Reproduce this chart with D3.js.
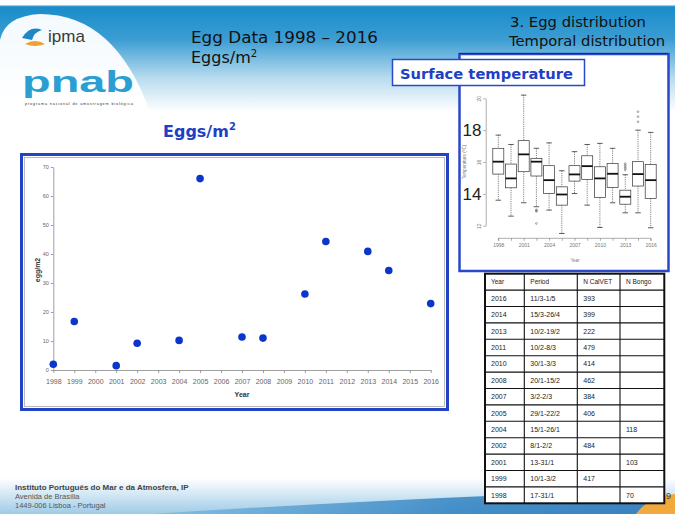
<!DOCTYPE html>
<html><head><meta charset="utf-8">
<script src="https://cdn.jsdelivr.net/npm/d3@7"></script>
<style>
html,body{margin:0;padding:0;background:#fff;}
svg{display:block;}
</style></head>
<body>
<svg id="c" width="675" height="514"></svg>
<script>
// ---------- DATA ----------
const eggYears = [1998,1999,2001,2002,2004,2005,2007,2008,2010,2011,2013,2014,2016];
const eggValues = [2.0,16.7,1.5,9.2,10.2,66.0,11.4,11.0,26.2,44.3,40.9,34.3,22.9];
const xTickYears = d3.range(1998,2017);
const yTicksEggs = [0,10,20,30,40,50,60,70];

const boxYears = [1998,1999,2001,2002,2004,2005,2007,2008,2010,2011,2013,2014,2016];
const boxLabelYears = [1998,2001,2004,2007,2010,2013,2016];
const whiskerLow  = [13.6,12.6,13.44,13.19,12.98,11.51,14.02,13.29,11.89,13.44,12.81,12.81,11.87];
const quart1      = [15.24,14.38,15.39,15.12,14.03,13.29,14.80,14.9,13.77,14.4,13.35,14.49,13.71];
const medians     = [16.02,14.97,16.48,16.02,14.86,13.96,15.22,15.74,14.97,15.26,13.82,15.24,14.86];
const quart3      = [16.86,15.87,17.34,16.23,15.77,14.44,15.77,16.39,15.7,15.91,14.23,16.02,15.85];
const whiskerHigh = [17.69,17.1,20.2,16.86,17.2,15.45,16.65,17.1,17.17,16.86,15.2,18.0,17.86];
const outlierYears = [2002,2002,2002,2002,2013,2013,2013,2013,2013,2014,2014,2014];
const outlierTemps = [13.0,12.95,12.9,12.14,15.9,15.8,15.7,15.6,15.5,19.16,18.85,18.53];
const tempSmallTicks = [12,16,20];
const tempBigTicks = [14,18];

const tableHeader = ["Year","Period","N CalVET","N Bongo"];
const tableYears = ["2016","2014","2013","2011","2010","2008","2007","2005","2004","2002","2001","1999","1998"];
const tablePeriods = ["11/3-1/5","15/3-26/4","10/2-19/2","10/2-8/3","30/1-3/3","20/1-15/2","3/2-2/3","29/1-22/2","15/1-26/1","8/1-2/2","13-31/1","10/1-3/2","17-31/1"];
const tableCalVET = ["393","399","222","479","414","462","384","406","","484","","417",""];
const tableBongo = ["","","","","","","","","118","","103","","70"];

// ---------- SVG ----------
const svg = d3.select("#c");
const defs = svg.append("defs");

const hg = defs.append("linearGradient").attr("id","hdr").attr("x1",0).attr("y1",0).attr("x2",0).attr("y2",1);
hg.append("stop").attr("offset",0).attr("stop-color","#ffffff");
hg.append("stop").attr("offset",0.04).attr("stop-color","#ffffff");
hg.append("stop").attr("offset",0.06).attr("stop-color","#1a8cca");
hg.append("stop").attr("offset",0.35).attr("stop-color","#3b9dd3");
hg.append("stop").attr("offset",0.7).attr("stop-color","#b9dcef");
hg.append("stop").attr("offset",1).attr("stop-color","#ffffff");

const fg = defs.append("linearGradient").attr("id","ftr").attr("x1",0).attr("y1",0).attr("x2",0).attr("y2",1);
fg.append("stop").attr("offset",0).attr("stop-color","#ffffff");
fg.append("stop").attr("offset",1).attr("stop-color","#9fcbe8");

const sw = defs.append("linearGradient").attr("id","swoosh").attr("x1",0).attr("y1",0).attr("x2",1).attr("y2",0);
sw.append("stop").attr("offset",0).attr("stop-color","#7fb9e0");
sw.append("stop").attr("offset",0.6).attr("stop-color","#2a7fc0");
sw.append("stop").attr("offset",1).attr("stop-color","#1e6fb5");

// header band
svg.append("rect").attr("x",0).attr("y",0).attr("width",675).attr("height",112).attr("fill","url(#hdr)");
// white wave under logos
svg.append("path").attr("d","M0,112 L0,40 Q5,16 40,14 Q115,14 150,112 Z").attr("fill","#ffffff").attr("opacity",0.95);

// logos (approximate, as text)
svg.append("path").attr("d","M22,38 Q30,25 42,30 Q34,32 32,40 Z").attr("fill","#1f87c3");
svg.append("path").attr("d","M25,44 Q35,38 45,44 Q35,48 25,44 Z").attr("fill","#f0a030");
svg.append("text").attr("x",48).attr("y",42).attr("font-family","Liberation Sans, Arial").attr("font-size",17)
  .attr("fill","#3a3a3a").text("ipma");
svg.append("text").attr("x",22).attr("y",92).attr("font-family","Liberation Sans, Arial").attr("font-size",30).attr("font-weight","bold")
  .attr("fill","#2b9fd2").attr("textLength",112).attr("lengthAdjust","spacingAndGlyphs").text("pnab");
svg.append("text").attr("x",25).attr("y",105).attr("font-family","Liberation Sans, Arial").attr("font-size",3.8)
  .attr("fill","#333").attr("textLength",108).text("programa nacional de amostragem biológica");

// footer band
svg.append("rect").attr("x",0).attr("y",478).attr("width",675).attr("height",36).attr("fill","url(#ftr)");
svg.append("path").attr("d","M150,514 Q400,498 640,490 Q660,500 650,514 Z").attr("fill","url(#swoosh)").attr("opacity",0.8);
svg.append("path").attr("d","M636,514 Q648,497 675,494 L675,514 Z").attr("fill","#f2a93b");

// titles
const comic = "'DejaVu Sans', sans-serif";
svg.append("text").attr("x",191).attr("y",43).attr("font-family",comic).attr("font-size",16)
  .attr("fill","#111").attr("textLength",187).attr("lengthAdjust","spacingAndGlyphs").text("Egg Data 1998 – 2016");
const t2 = svg.append("text").attr("x",191).attr("y",63).attr("font-family",comic).attr("font-size",16).attr("fill","#111");
t2.append("tspan").text("Eggs/m");
t2.append("tspan").attr("font-size",10).attr("dy",-6).text("2");

svg.append("text").attr("x",510).attr("y",27).attr("font-family",comic).attr("font-size",13.5)
  .attr("fill","#111").attr("textLength",136).attr("lengthAdjust","spacingAndGlyphs").text("3. Egg distribution");
svg.append("text").attr("x",509).attr("y",46).attr("font-family",comic).attr("font-size",13.5)
  .attr("fill","#111").attr("textLength",156).attr("lengthAdjust","spacingAndGlyphs").text("Temporal distribution");

const t3 = svg.append("text").attr("x",163).attr("y",137).attr("font-family",comic).attr("font-size",16).attr("font-weight","bold").attr("fill","#1f3fc4");
t3.append("tspan").text("Eggs/m");
t3.append("tspan").attr("font-size",10).attr("dy",-7).text("2");

// footer text
const ft = "Liberation Sans, Arial";
svg.append("text").attr("x",15).attr("y",490).attr("font-family",ft).attr("font-size",8).attr("font-weight","bold").attr("fill","#444").text("Instituto Português do Mar e da Atmosfera, IP");
svg.append("text").attr("x",15).attr("y",499).attr("font-family",ft).attr("font-size",7.5).attr("fill","#555").text("Avenida de Brasília");
svg.append("text").attr("x",15).attr("y",508).attr("font-family",ft).attr("font-size",7.5).attr("fill","#555").text("1449-006 Lisboa - Portugal");

// ---------- SCATTER PANEL ----------
svg.append("rect").attr("x",21.5).attr("y",154.5).attr("width",426).attr("height",255)
  .attr("fill","#fff").attr("stroke","#2244c4").attr("stroke-width",3);
svg.append("rect").attr("x",24.5).attr("y",157.5).attr("width",420).attr("height",249)
  .attr("fill","none").attr("stroke","#aaa").attr("stroke-width",0.8);

const x = d3.scaleLinear().domain([1998,2016]).range([53.3,430.7]);
const y = d3.scaleLinear().domain([0,70]).range([370,167]);

const ax = svg.append("g").attr("transform","translate(0,370)")
  .call(d3.axisBottom(x).tickValues(xTickYears).tickFormat(d3.format("d")).tickSize(3).tickSizeOuter(0));
const ay = svg.append("g").attr("transform","translate(53.3,0)")
  .call(d3.axisLeft(y).tickValues(yTicksEggs).tickSize(2.5).tickSizeOuter(0).tickPadding(2));
[ax,ay].forEach(g=>{
  g.selectAll("path,line").attr("stroke","#888").attr("stroke-width",0.8);
  g.selectAll("text").attr("fill","#666").attr("font-family",ft);
});
ax.selectAll("text").attr("font-size",7).attr("dy","1.1em");
ay.selectAll("text").attr("font-size",5.5);

svg.append("text").attr("x",242).attr("y",397).attr("text-anchor","middle").attr("font-family",ft)
  .attr("font-size",7).attr("font-weight","bold").attr("fill","#333").text("Year");
svg.append("text").attr("transform","translate(40,270) rotate(-90)").attr("text-anchor","middle").attr("font-family",ft)
  .attr("font-size",7).attr("font-weight","bold").attr("fill","#333").text("egg/m2");

svg.append("g").selectAll("circle").data(eggYears).join("circle")
  .attr("cx",(d)=>x(d)).attr("cy",(d,i)=>y(eggValues[i])).attr("r",3.8).attr("fill","#0b36cc");

// ---------- BOXPLOT PANEL ----------
svg.append("rect").attr("x",459.5).attr("y",54).attr("width",209).attr("height",217)
  .attr("fill","#fff").attr("stroke","#2a48c8").attr("stroke-width",2.5);
svg.append("line").attr("x1",459).attr("x2",668).attr("y1",53.5).attr("y2",53.5).attr("stroke","#333").attr("stroke-width",1);

const bx = d3.scalePoint().domain(boxYears).range([498.3,650.7]);
const by = d3.scaleLinear().domain([12,20]).range([225.7,98.3]);

const bax = svg.append("g").attr("transform","translate(0,238.3)")
  .call(d3.axisBottom(bx).tickFormat(d=>boxLabelYears.includes(d)?d:"").tickSize(2.5).tickPadding(3));
bax.select(".domain").attr("d",`M${bx(1998)},240.8V238.3H${bx(2016)}V240.8`).attr("transform","translate(0,-238.3)");
bax.selectAll("path,line").attr("stroke","#777").attr("stroke-width",0.6);
bax.selectAll("text").attr("font-size",5).attr("fill","#777").attr("font-family",ft);

const bay = svg.append("g").attr("transform","translate(485.7,0)")
  .call(d3.axisLeft(by).tickValues([12,14,16,18,20]).tickSize(2.5).tickFormat(d=>tempSmallTicks.includes(d)?d:"").tickSizeOuter(0));
bay.selectAll("path,line").attr("stroke","#777").attr("stroke-width",0.6);
bay.selectAll("text").attr("font-size",5).attr("fill","#777").attr("font-family",ft)
  .attr("transform","rotate(-90)").attr("x",0).attr("dy",0).attr("y",-5).attr("text-anchor","middle");

svg.append("g").selectAll("text").data(tempBigTicks).join("text")
  .attr("x",472).attr("y",d=>by(d)).attr("dy","0.36em").attr("text-anchor","middle")
  .attr("font-family",ft).attr("font-size",17).attr("fill","#222").text(d=>d);

svg.append("text").attr("x",575).attr("y",262).attr("text-anchor","middle").attr("font-family",ft)
  .attr("font-size",4.5).attr("fill","#777").text("Year");
svg.append("text").attr("transform","translate(466,162) rotate(-90)").attr("text-anchor","middle").attr("font-family",ft)
  .attr("font-size",4.5).attr("fill","#777").text("Temperature (ºC)");

const bw = 11;
const boxes = svg.append("g").selectAll("g").data(boxYears).join("g");
boxes.append("line").attr("x1",d=>bx(d)).attr("x2",d=>bx(d))
  .attr("y1",(d,i)=>by(whiskerHigh[i])).attr("y2",(d,i)=>by(quart3[i]))
  .attr("stroke","#333").attr("stroke-width",0.6).attr("stroke-dasharray","1.2,1");
boxes.append("line").attr("x1",d=>bx(d)).attr("x2",d=>bx(d))
  .attr("y1",(d,i)=>by(quart1[i])).attr("y2",(d,i)=>by(whiskerLow[i]))
  .attr("stroke","#333").attr("stroke-width",0.6).attr("stroke-dasharray","1.2,1");
boxes.append("line").attr("x1",d=>bx(d)-bw/4).attr("x2",d=>bx(d)+bw/4)
  .attr("y1",(d,i)=>by(whiskerHigh[i])).attr("y2",(d,i)=>by(whiskerHigh[i])).attr("stroke","#333").attr("stroke-width",0.8);
boxes.append("line").attr("x1",d=>bx(d)-bw/4).attr("x2",d=>bx(d)+bw/4)
  .attr("y1",(d,i)=>by(whiskerLow[i])).attr("y2",(d,i)=>by(whiskerLow[i])).attr("stroke","#333").attr("stroke-width",0.8);
boxes.append("rect").attr("x",d=>bx(d)-bw/2).attr("width",bw)
  .attr("y",(d,i)=>by(quart3[i])).attr("height",(d,i)=>by(quart1[i])-by(quart3[i]))
  .attr("fill","#fff").attr("stroke","#333").attr("stroke-width",0.7);
boxes.append("line").attr("x1",d=>bx(d)-bw/2).attr("x2",d=>bx(d)+bw/2)
  .attr("y1",(d,i)=>by(medians[i])).attr("y2",(d,i)=>by(medians[i])).attr("stroke","#111").attr("stroke-width",1.8);

svg.append("g").selectAll("circle").data(outlierYears).join("circle")
  .attr("cx",d=>bx(d)).attr("cy",(d,i)=>by(outlierTemps[i])).attr("r",0.9)
  .attr("fill","none").attr("stroke","#555").attr("stroke-width",0.5);

// Surface temperature label
svg.append("rect").attr("x",392.5).attr("y",59.5).attr("width",192).attr("height",26)
  .attr("fill","#fff").attr("stroke","#2a48c8").attr("stroke-width",1.5);
svg.append("text").attr("x",400).attr("y",79).attr("font-family",comic).attr("font-size",14.5).attr("font-weight","bold")
  .attr("fill","#1f3fc4").attr("textLength",173).attr("lengthAdjust","spacingAndGlyphs").text("Surface temperature");

// ---------- TABLE ----------
const colX = [485,524.3,577.3,620,664.3];
const rowH = 16.4, top0 = 273.7;
const rows = [tableHeader].concat(tableYears.map((yv,i)=>[yv,tablePeriods[i],tableCalVET[i],tableBongo[i]]));
const tbl = svg.append("g");
tbl.append("rect").attr("x",colX[0]).attr("y",top0).attr("width",colX[4]-colX[0]).attr("height",rowH*rows.length)
  .attr("fill","#fff").attr("stroke","#111").attr("stroke-width",2);
tbl.selectAll("line.h").data(d3.range(1,rows.length)).join("line").attr("class","h")
  .attr("x1",colX[0]).attr("x2",colX[4]).attr("y1",d=>top0+d*rowH).attr("y2",d=>top0+d*rowH)
  .attr("stroke","#111").attr("stroke-width",1.1);
tbl.selectAll("line.v").data(colX.slice(1,4)).join("line").attr("class","v")
  .attr("x1",d=>d).attr("x2",d=>d).attr("y1",top0).attr("y2",top0+rowH*rows.length)
  .attr("stroke","#111").attr("stroke-width",1.1);
rows.forEach((r,ri)=>{
  r.forEach((v,ci)=>{
    if(!v) return;
    tbl.append("text").attr("x",colX[ci]+6).attr("y",top0+ri*rowH+rowH/2).attr("dy","0.35em")
      .attr("font-family",ft).attr("font-size",ri===0?6.5:7).attr("fill","#222").text(v);
  });
});

// slide number
svg.append("text").attr("x",666).attr("y",499).attr("font-family",ft).attr("font-size",9).attr("fill","#444").text("9");
</script>
</body></html>
